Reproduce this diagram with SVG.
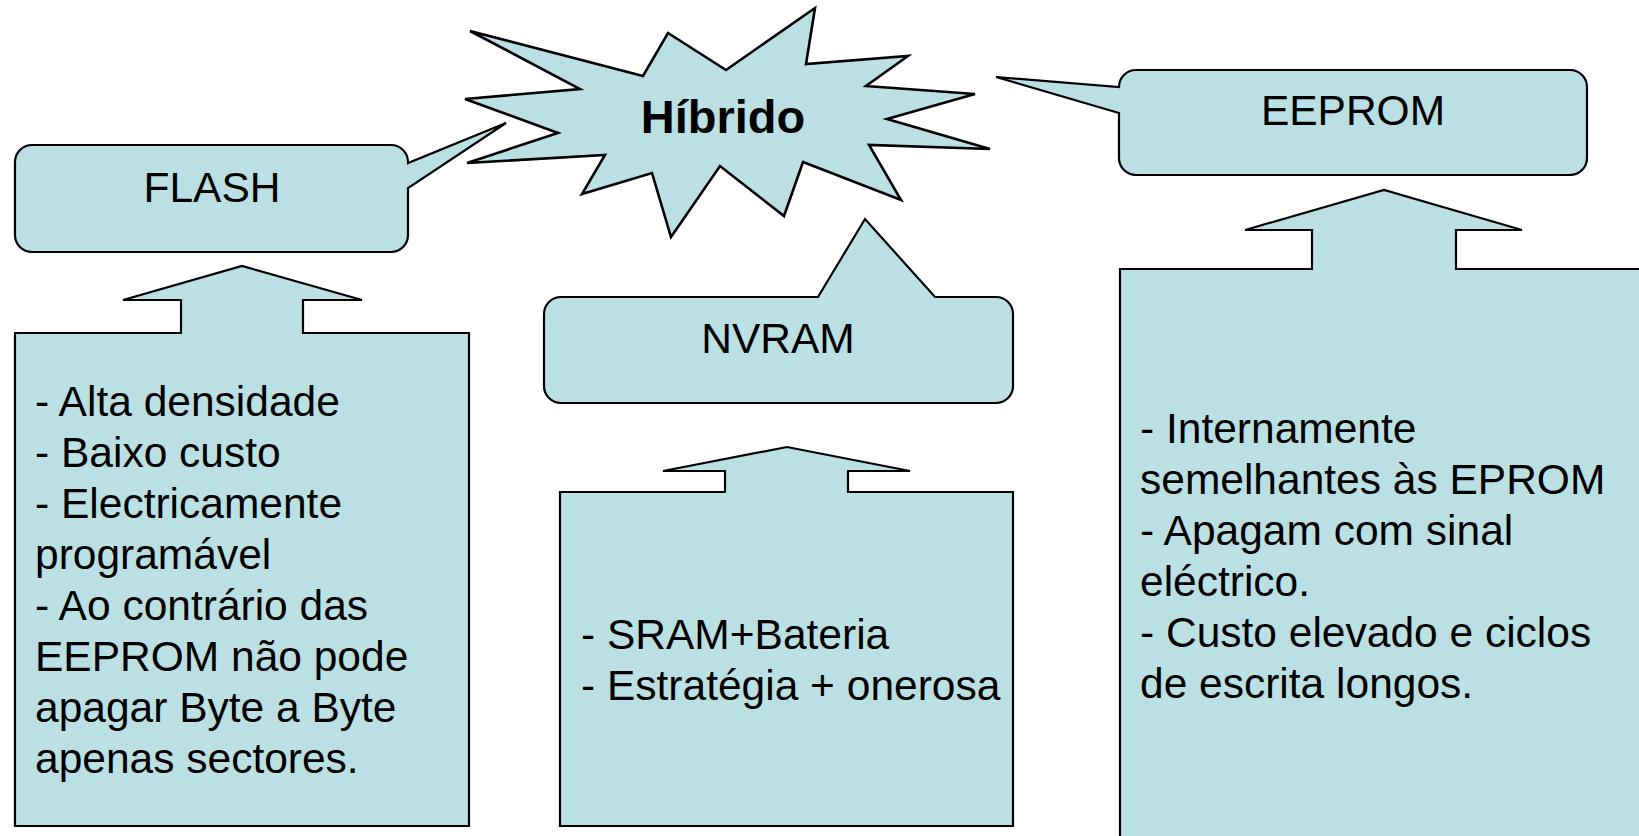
<svg xmlns="http://www.w3.org/2000/svg" width="1639" height="836" viewBox="0 0 1639 836">
  <style>
    .shape { fill: #BBE0E3; stroke: #000; stroke-width: 2.2; stroke-linejoin: miter; }
    .burst { fill: #BBE0E3; stroke: #000; stroke-width: 2.6; stroke-linejoin: miter; }
    .title { font-family: "Liberation Sans", Arial, sans-serif; font-size: 42.5px; fill: #000; text-anchor: middle; }
    .body { font-family: "Liberation Sans", Arial, sans-serif; font-size: 42.5px; fill: #000; }
    .hyb { font-family: "Liberation Sans", Arial, sans-serif; font-size: 47px; font-weight: bold; fill: #000; text-anchor: middle; }
  </style>

  <rect width="1639" height="836" fill="#fff"/>

  <!-- central starburst -->
  <g id="hibrido">
    <polygon class="burst" points="470,31 643,76 668,33 726,70 815,8 806,64 908,56 866,86 975,94 887,119 990,149 869,145 901,200 803,162 784,216 720,166 671,237 652,173 582,194 605,155 467,163 558,133 465,99 580,89"/>
    <text class="hyb" x="723" y="133">Híbrido</text>
  </g>

  <!-- FLASH callout -->
  <g id="flash">
    <path class="shape" d="M32,145 H391 A17,17 0 0 1 408,162 L408,163 L506,123 L408,188 V235 A17,17 0 0 1 391,252 H32 A17,17 0 0 1 15,235 V162 A17,17 0 0 1 32,145 Z"/>
    <text class="title" x="212" y="202">FLASH</text>
  </g>

  <!-- NVRAM callout -->
  <g id="nvram">
    <path class="shape" d="M561,297 H818 L865,219 L935,297 H996 A17,17 0 0 1 1013,314 V386 A17,17 0 0 1 996,403 H561 A17,17 0 0 1 544,386 V314 A17,17 0 0 1 561,297 Z"/>
    <text class="title" x="778" y="353">NVRAM</text>
  </g>

  <!-- EEPROM callout -->
  <g id="eeprom">
    <path class="shape" d="M1136,70 H1570 A17,17 0 0 1 1587,87 V158 A17,17 0 0 1 1570,175 H1136 A17,17 0 0 1 1119,158 V113 L996,77 L1119,87 A17,17 0 0 1 1136,70 Z"/>
    <text class="title" x="1353" y="125">EEPROM</text>
  </g>

  <!-- FLASH properties (up-arrow box) -->
  <g id="flash-info">
    <path class="shape" d="M15,333 H181 V300 H123 L242,266 L362,300 H303 V333 H469 V826 H15 Z"/>
    <text class="body" x="35" y="416">- Alta densidade</text>
    <text class="body" x="35" y="467">- Baixo custo</text>
    <text class="body" x="35" y="518">- Electricamente</text>
    <text class="body" x="35" y="569">programável</text>
    <text class="body" x="35" y="620">- Ao contrário das</text>
    <text class="body" x="35" y="671">EEPROM não pode</text>
    <text class="body" x="35" y="722">apagar Byte a Byte</text>
    <text class="body" x="35" y="773">apenas sectores.</text>
  </g>

  <!-- NVRAM properties (up-arrow box) -->
  <g id="nvram-info">
    <path class="shape" d="M560,492 H725 V471 H663 L787,447 L910,471 H848 V492 H1013 V826 H560 Z"/>
    <text class="body" x="581" y="649">- SRAM+Bateria</text>
    <text class="body" x="581" y="700">- Estratégia + onerosa</text>
  </g>

  <!-- EEPROM properties (up-arrow box, runs off the page edge) -->
  <g id="eeprom-info">
    <path class="shape" d="M1120,269 H1312 V230 H1245 L1384,190 L1522,230 H1456 V269 H1660 V870 H1120 Z"/>
    <text class="body" x="1140" y="443">- Internamente</text>
    <text class="body" x="1140" y="494">semelhantes às EPROM</text>
    <text class="body" x="1140" y="545">- Apagam com sinal</text>
    <text class="body" x="1140" y="596">eléctrico.</text>
    <text class="body" x="1140" y="647">- Custo elevado e ciclos</text>
    <text class="body" x="1140" y="698">de escrita longos.</text>
  </g>
</svg>
